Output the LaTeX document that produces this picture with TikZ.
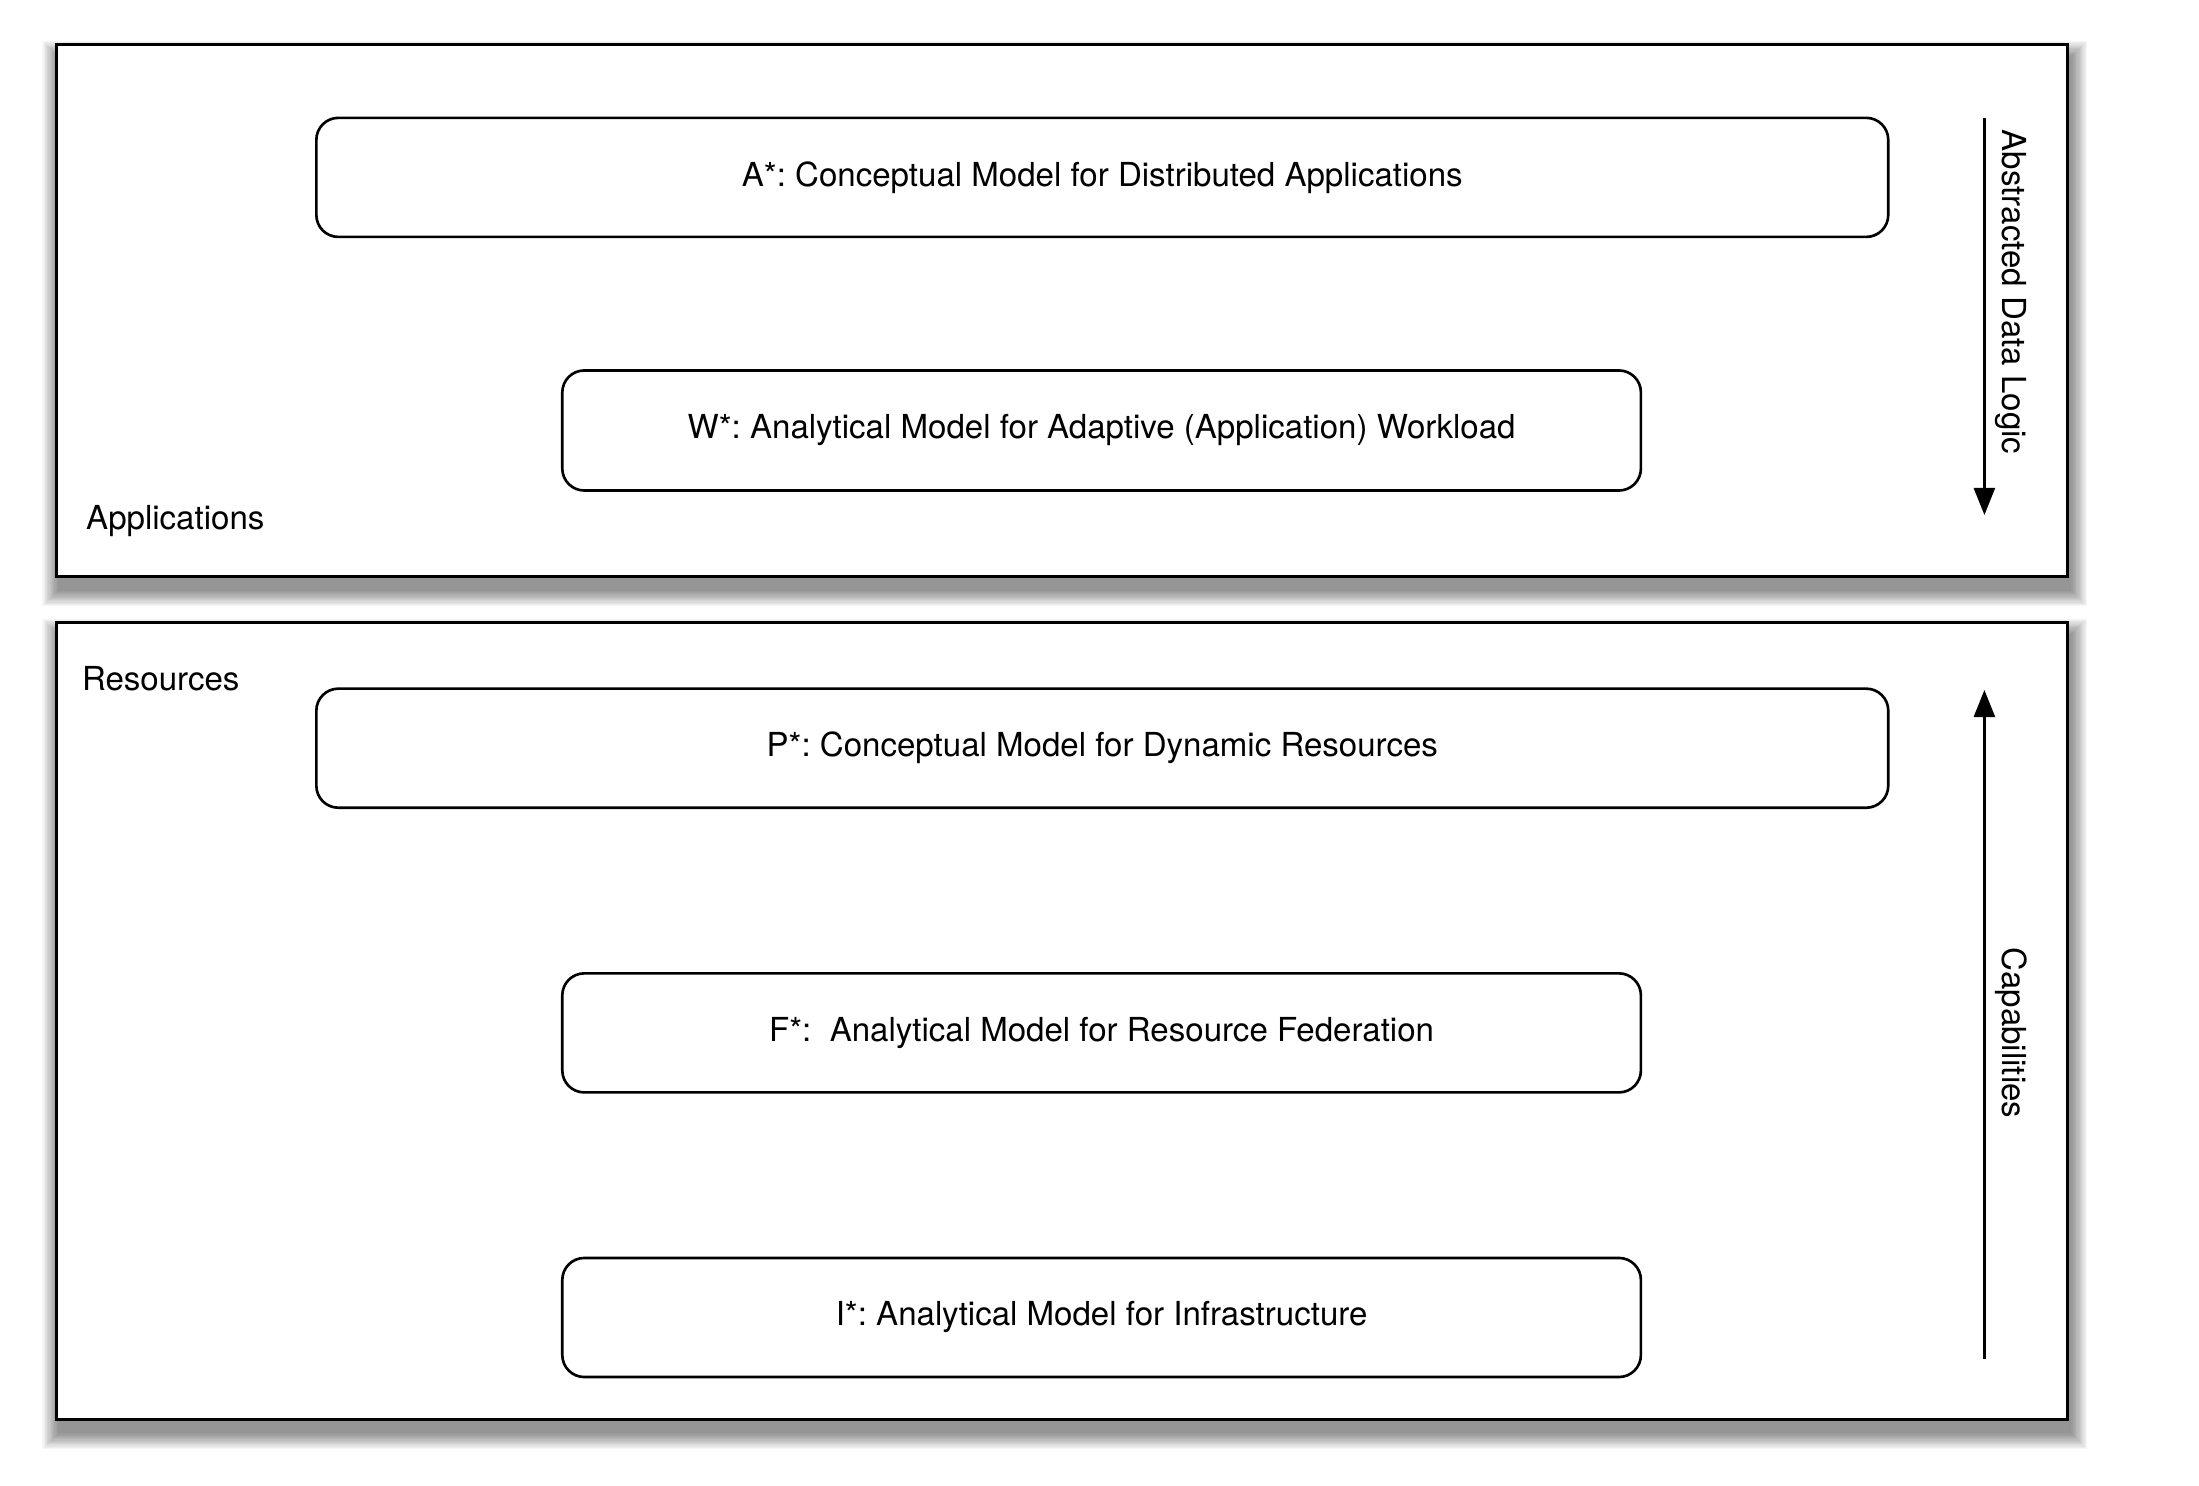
\documentclass[tikz,border=0pt]{standalone}
\usepackage{fontspec}
\setmainfont{TeX Gyre Heros}
\usetikzlibrary{arrows.meta}
\frenchspacing
\tikzset{
  outerbox/.style={draw=black, line width=0.9pt, fill=white},
  modelbox/.style={draw=black, line width=0.75pt, rounded corners=0.22cm, fill=white, inner sep=0pt, align=center},
  lbl/.style={inner sep=0pt},
  flowarrow/.style={line width=0.7pt, -{Triangle[width=0.21cm,length=0.27cm]}},
}
\begin{document}
\begin{tikzpicture}[x=0.01cm, y=-0.01cm, font=\fontsize{9.4}{11}\selectfont]
\useasboundingbox[fill=white] (0,0) rectangle (2199,1486);
% shadows
\foreach \i in {1,...,14} {
  \fill[black, opacity=0.035] ({56.1+3-\i*1.2},{44.9+13-\i*1.2}) rectangle ({2067.2+3+\i*1.2},{576.4+13+\i*1.2});
  \fill[black, opacity=0.035] ({56.1+3-\i*1.2},{622.7+13-\i*1.2}) rectangle ({2067.2+3+\i*1.2},{1419.2+13+\i*1.2});
}
% outer boxes
\draw[outerbox] (56.1,44.9) rectangle (2067.2,576.4);
\draw[outerbox] (56.1,622.7) rectangle (2067.2,1419.2);
\node[lbl, anchor=west] (apps) at (85.5,521) {Applications};
\node[lbl, anchor=west] (res) at (81.3,679) {Resources};
% model boxes
\node[modelbox, minimum width=15.71cm, minimum height=1.19cm] (A) at (1102.3,177.4) {A*: Conceptual Model for Distributed Applications};
\node[modelbox, minimum width=10.78cm, minimum height=1.2cm] (W) at (1101.6,430.5) {W*: Analytical Model for Adaptive (Application) Workload};
\node[modelbox, minimum width=15.71cm, minimum height=1.19cm] (P) at (1102.3,748.2) {P*: Conceptual Model for Dynamic Resources};
\node[modelbox, minimum width=10.78cm, minimum height=1.19cm] (F) at (1101.6,1032.9) {F*:\ \ Analytical Model for Resource Federation};
\node[modelbox, minimum width=10.78cm, minimum height=1.19cm] (I) at (1101.6,1317.5) {I*: Analytical Model for Infrastructure};
% arrows
\coordinate (d1) at (1984.4,117.8);
\coordinate (d2) at (1984.4,515);
\draw[flowarrow] (d1) -- (d2);
\node[lbl, rotate=-90] (adl) at (2011,292) {Abstracted Data Logic};
\coordinate (c1) at (1984.4,1359);
\coordinate (c2) at (1984.4,690);
\draw[flowarrow] (c1) -- (c2);
\node[lbl, rotate=-90] (cap) at (2011,1033) {Capabilities};
\end{tikzpicture}
\end{document}
